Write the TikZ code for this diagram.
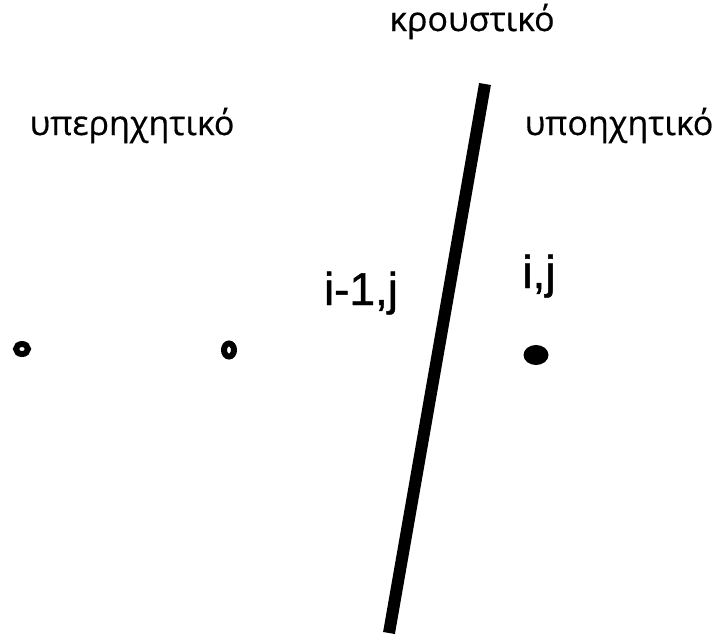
\documentclass[tikz,border=0pt]{standalone}
\usepackage{fontspec}
\usetikzlibrary{shapes.geometric}
\setmainfont[FakeBold=0.5]{Open Sans}
\newfontfamily\labfont[FakeBold=1]{Liberation Sans}
\begin{document}
\begin{tikzpicture}[x=1pt,y=-1pt,
  greek/.style={font=\fontsize{34}{38}\selectfont, inner sep=0pt, anchor=base},
  idx/.style={font=\labfont\fontsize{46}{50}\selectfont, inner sep=0pt, anchor=base},
  ring/.style={draw=black, line width=6pt, fill=white, ellipse, inner sep=0pt}]
\useasboundingbox (0,0) rectangle (715,635);
\fill[white] (0,0) rectangle (715,635);
\node[greek] (kr) at (472,31) {κρουστικό};
\node[greek] (yper) at (132,135) {υπερηχητικό};
\node[greek] (ypo) at (619,135) {υποηχητικό};
\node[idx] (im1) at (361,305) {i-1,j};
\node[idx] (ij) at (539,288) {i,j};
\coordinate (ltop) at (485,84);
\coordinate (lbot) at (389,633);
\draw[line width=12pt] (ltop) -- (lbot);
\node[ring, minimum width=12pt, minimum height=10pt] (d1) at (22,349) {};
\node[ring, minimum width=10pt, minimum height=13pt] (d2) at (229,350) {};
\node[fill=black, ellipse, minimum width=25pt, minimum height=20pt, inner sep=0pt] (d3) at (536,355) {};
\end{tikzpicture}
\end{document}
